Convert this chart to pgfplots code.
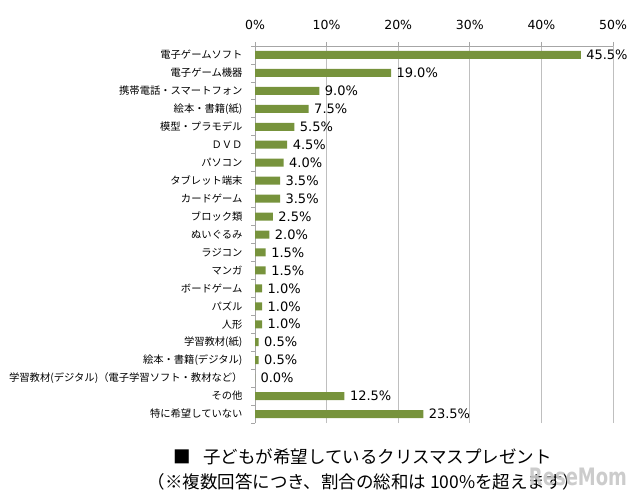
\documentclass[border=0pt]{standalone}
\usepackage{fontspec}
\setmainfont{DejaVu Sans}
\newfontfamily\jp{Noto Sans CJK JP}
\usepackage{pgfplots}
\pgfplotsset{compat=1.18}
\definecolor{barg}{HTML}{77933C}
\definecolor{gridg}{HTML}{BFBFBF}
\definecolor{axisg}{HTML}{A6A6A6}
\begin{document}
\begin{tikzpicture}[x=1pt,y=1pt]
\path[use as bounding box] (0,0) rectangle (640,499);
\begin{axis}[
  at={(255pt,76pt)}, anchor=south west,
  width=358pt, height=377pt, scale only axis,
  xmin=0, xmax=50, ymin=-0.5, ymax=20.5,
  xbar, bar width=8pt,
  axis x line*=top, axis y line*=left,
  axis line style={axisg, line width=0.8pt},
  tick align=outside,
  xtick={0,10,...,50},
  xticklabel={\pgfmathprintnumber{\tick}\%},
  xmajorgrids, grid style={gridg, line width=0.8pt},
  major tick length=4pt,
  minor tick length=4pt,
  every tick/.style={axisg, line width=0.8pt},
  major y tick style={draw=none},
  ytick={0,...,20},
  minor ytick={-0.5,0.5,...,20.5},
  /pgf/number format/assume math mode=true,
  xticklabel style={font=\fontsize{12.5}{14}\selectfont, yshift=9pt},
  yticklabel style={font=\jp\fontsize{10.3}{12}\selectfont, xshift=-5pt},
  yticklabels={特に希望していない,その他,学習教材(デジタル)（電子学習ソフト・教材など）,絵本・書籍(デジタル),学習教材(紙),人形,パズル,ボードゲーム,マンガ,ラジコン,ぬいぐるみ,ブロック類,カードゲーム,タブレット端末,パソコン,ＤＶＤ,模型・プラモデル,絵本・書籍(紙),携帯電話・スマートフォン,電子ゲーム機器,電子ゲームソフト},
  nodes near coords={\pgfmathprintnumber[fixed,fixed zerofill,precision=1]{\pgfplotspointmeta}\%},
  nodes near coords style={font=\fontsize{13}{15}\selectfont, anchor=west, xshift=2pt},
]
\addplot[fill=barg, draw=none] coordinates {
(45.5,20) (19.0,19) (9.0,18) (7.5,17) (5.5,16) (4.5,15) (4.0,14)
(3.5,13) (3.5,12) (2.5,11) (2.0,10) (1.5,9) (1.5,8) (1.0,7) (1.0,6)
(1.0,5) (0.5,4) (0.5,3) (0.0,2) (12.5,1) (23.5,0)
};
\end{axis}
\node[anchor=west, font=\jp\fontsize{17.5}{20}\selectfont] at (170,42) {■\hspace{12pt}子どもが希望しているクリスマスプレゼント};
\node[anchor=west, font=\jp\fontsize{17.5}{20}\selectfont] at (144,17) {（※複数回答につき、割合の総和は 100\%を超えます）};
\node[anchor=center, xscale=0.75, font=\bfseries\fontsize{24}{26}\selectfont, text=black!22, opacity=0.9] at (578,22) {ReseMom};
\end{tikzpicture}
\end{document}
